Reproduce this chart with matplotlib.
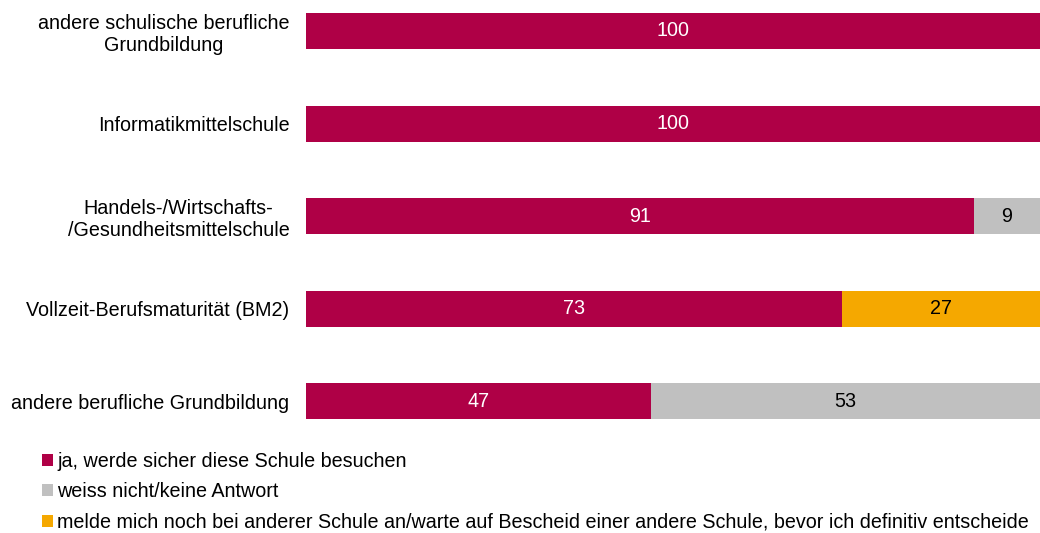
import matplotlib
matplotlib.use("Agg")
import matplotlib.pyplot as plt
import numpy as np

plt.rcParams['font.family'] = ['Liberation Sans', 'DejaVu Sans']

categories = [
    "andere schulische berufliche\nGrundbildung",
    "Informatikmittelschule",
    "Handels-/Wirtschafts-\n/Gesundheitsmittelschule",
    "Vollzeit-Berufsmaturität (BM2)",
    "andere berufliche Grundbildung",
]
series_names = [
    "ja, werde sicher diese Schule besuchen",
    "weiss nicht/keine Antwort",
    "melde mich noch bei anderer Schule an/warte auf Bescheid einer andere Schule, bevor ich definitiv entscheide",
]
ja = [100, 100, 91, 73, 47]
weiss = [0, 0, 9, 0, 53]
melde = [0, 0, 0, 27, 0]
colors = ["#AF0046", "#C0C0C0", "#F5A800"]
text_colors = ["white", "black", "black"]

FS = 14.2

fig = plt.figure(figsize=(10.40, 5.33), dpi=100)
ax = fig.add_axes([306/1040, 1 - 438.4/533, 1 - 306/1040, 0.8165])

y = np.arange(len(categories))
left = np.zeros(len(categories))
handles = []
for vals, col, tcol, name in zip([ja, weiss, melde], colors, text_colors, series_names):
    vals = np.array(vals, dtype=float)
    bars = ax.barh(y, vals, left=left, height=0.39, color=col, label=name)
    handles.append(bars)
    for yi, (l, v) in enumerate(zip(left, vals)):
        if v > 0:
            ax.text(l + v / 2, yi, f"{int(v)}", ha='center', va='center',
                    color=tcol, fontsize=FS)
    left += vals

ax.set_xlim(0, 100)
ax.set_ylim(4.4, -0.3)
ax.set_yticks(y)
ax.set_yticklabels(categories, fontsize=FS, multialignment='center')
ax.tick_params(axis='y', length=0, pad=12)
ax.set_xticks([])
for s in ax.spines.values():
    s.set_visible(False)

fig.legend(handles=handles, labels=series_names, loc='upper left',
           bbox_to_anchor=(42/1040, 1 - 452/533), bbox_transform=fig.transFigure,
           frameon=False, fontsize=FS, handlelength=0.56, handleheight=0.56,
           handletextpad=0.2, labelspacing=0.58, borderaxespad=0, borderpad=0)

fig.savefig("out.png", dpi=100)
